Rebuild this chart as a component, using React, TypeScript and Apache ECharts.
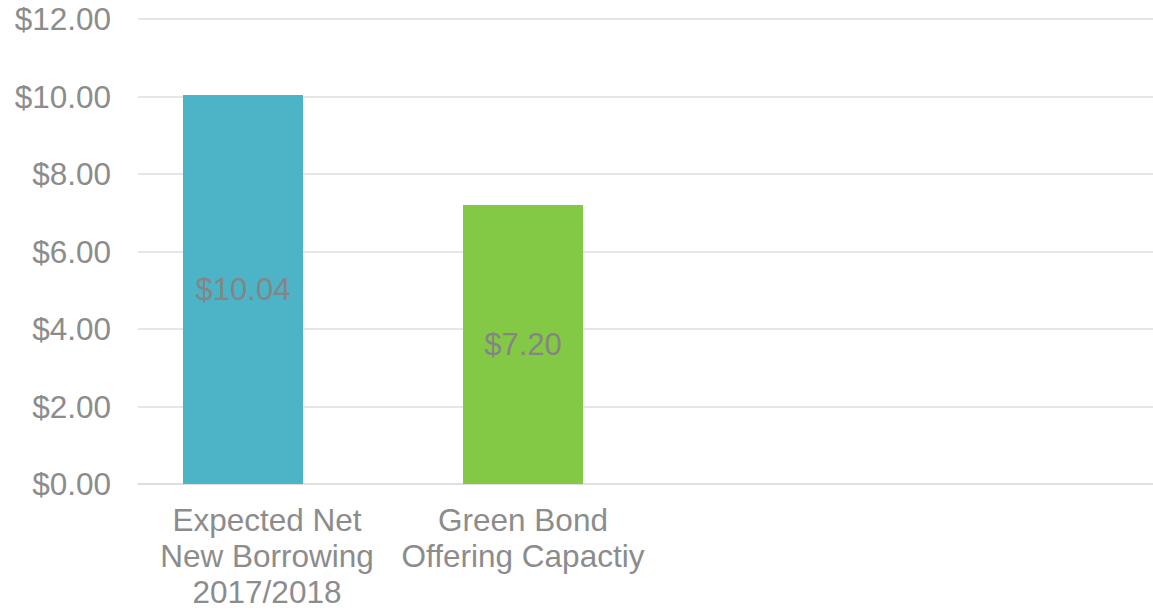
import React, { useEffect, useRef } from "react";
import * as echarts from "echarts";

const categories = ["Expected Net\nNew Borrowing\n2017/2018", "Green Bond\nOffering Capactiy", "", ""];
const values = [10.04, 7.2, null, null];
const barColors = ["#4DB3C7", "#84C946", "#4DB3C7", "#84C946"];
const yTicks = { min: 0, max: 12, interval: 2 };

const FONT = "'Liberation Sans', Arial, sans-serif";
const TOP = 19;
const BOTTOM = 126;

export default function App() {
  const ref = useRef<HTMLDivElement>(null);
  useEffect(() => {
    if (!ref.current) return;
    const chart = echarts.init(ref.current, undefined, { renderer: "svg" });
    const hiddenY = (gridIndex: number) => ({
      type: "value",
      gridIndex,
      min: yTicks.min,
      max: yTicks.max,
      interval: yTicks.interval,
      show: false,
      splitLine: { show: false },
    });
    chart.setOption({
      animation: false,
      backgroundColor: "#ffffff",
      grid: [
        // gridlines and value axis
        { left: 138, right: 0, top: TOP, bottom: BOTTOM, containLabel: false },
        // bars
        { left: 243, width: 840, top: TOP, bottom: BOTTOM, containLabel: false },
        // category labels
        { left: 267, width: 768, top: TOP, bottom: BOTTOM, containLabel: false },
      ],
      xAxis: [
        {
          type: "category",
          gridIndex: 0,
          data: categories,
          axisLine: { show: true, lineStyle: { color: "#DCDCDC", width: 1.5 } },
          axisTick: { show: false },
          axisLabel: { show: false },
        },
        {
          type: "category",
          gridIndex: 1,
          boundaryGap: false,
          data: categories,
          show: false,
        },
        {
          type: "category",
          gridIndex: 2,
          boundaryGap: false,
          data: categories,
          axisLine: { show: false },
          axisTick: { show: false },
          axisLabel: {
            interval: 0,
            color: "#8C8C8C",
            fontSize: 31.5,
            fontFamily: FONT,
            lineHeight: 36,
            margin: 20,
            align: "center",
          },
        },
      ],
      yAxis: [
        {
          type: "value",
          gridIndex: 0,
          min: yTicks.min,
          max: yTicks.max,
          interval: yTicks.interval,
          axisLine: { show: false },
          axisTick: { show: false },
          splitLine: { show: true, lineStyle: { color: "#DEDEDE", width: 1.5 } },
          axisLabel: {
            color: "#8C8C8C",
            fontSize: 31.5,
            fontFamily: FONT,
            margin: 27,
            formatter: (v: number) => "$" + v.toFixed(2),
          },
        },
        hiddenY(1),
        hiddenY(2),
      ],
      series: [
        {
          type: "bar",
          xAxisIndex: 1,
          yAxisIndex: 1,
          barWidth: 120,
          data: values.map((v, i) => ({ value: v, itemStyle: { color: barColors[i] } })),
          label: {
            show: true,
            position: "inside",
            color: "#858585",
            fontSize: 31,
            fontFamily: FONT,
            formatter: (p: any) => "$" + Number(p.value).toFixed(2),
          },
        },
      ],
    });
    return () => chart.dispose();
  }, []);
  return (
    <div
      ref={ref}
      style={{ position: "fixed", left: 0, top: 0, width: 1153, height: 610, background: "#fff" }}
    />
  );
}
